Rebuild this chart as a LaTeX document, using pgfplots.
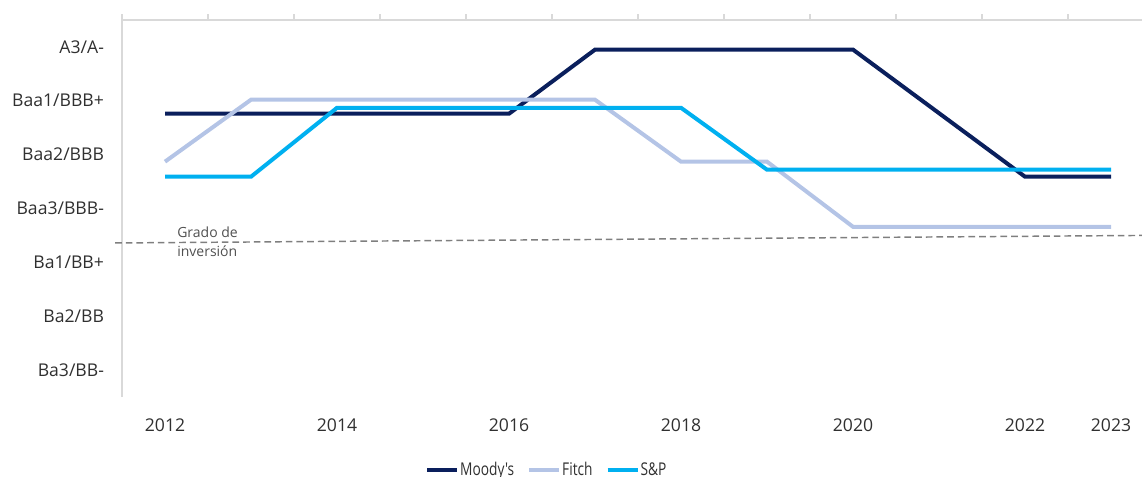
\documentclass[border=0pt]{standalone}
\usepackage{pgfplots}
\pgfplotsset{compat=1.18}
\usepackage{fontspec}
\setmainfont{Open Sans}
\newfontfamily\legfont[FakeStretch=0.78]{Open Sans}
\definecolor{moody}{HTML}{0A1F5C}
\definecolor{fitch}{HTML}{B4C4E6}
\definecolor{sp}{HTML}{00B0F0}
\definecolor{axisgray}{HTML}{D9D9D9}
\definecolor{labelgray}{HTML}{303030}
\definecolor{dashgray}{HTML}{7F7F7F}
\definecolor{notegray}{HTML}{505050}
\begin{document}
\begin{tikzpicture}
\begin{axis}[
  at={(0,0)}, anchor=south west,
  scale only axis, width=765pt, height=282.75pt,
  xmin=2011.5, xmax=2023.36, ymin=0.5, ymax=7.5,
  axis line style={draw=none},
  clip=false,
  /pgf/number format/assume math mode=true,
  /pgf/number format/set thousands separator={},
  xtick={2012,2014,2016,2018,2020,2022,2023},
  xticklabels={2012,2014,2016,2018,2020,2022,2023},
  ytick={1,2,3,4,5,6,7},
  yticklabels={Ba3/BB-,Ba2/BB,Ba1/BB+,Baa3/BBB-,Baa2/BBB,Baa1/BBB+,A3/A-},
  major tick length=0pt,
  tick style={draw=none},
  ticklabel style={font=\fontsize{13.2}{15}\selectfont, text=labelgray},
  xticklabel style={anchor=center, yshift=-21pt},
  yticklabel style={anchor=east, xshift=-10pt},
  legend style={at={(0.297,-0.194)}, anchor=west, draw=none, fill=none,
    legend columns=3, font=\legfont\fontsize{13.2}{15}\selectfont, text=labelgray,
    nodes={inner sep=0.75pt},
    /tikz/every even column/.append style={column sep=9pt},
    inner sep=0pt},
  legend cell align=left,
  legend image code/.code={\draw[#1, line width=3pt] (0pt,0pt) -- (22.5pt,0pt);},
]
\draw[axisgray, line width=1.1pt] (rel axis cs:0,0) -- ([yshift=4.5pt]rel axis cs:0,1);
\draw[axisgray, line width=1.1pt] (rel axis cs:0,1) -- (rel axis cs:1,1);
\pgfplotsinvokeforeach{2012.5,2013.5,2014.5,2015.5,2016.5,2017.5,2018.5,2019.5,2020.5,2021.5,2022.5}{
  \draw[axisgray, line width=1.1pt] (axis cs:#1,7.5) -- ([yshift=4.5pt]axis cs:#1,7.5);
}
\addplot[dashgray, line width=1.1pt, dash pattern=on 5pt off 3pt, forget plot]
  coordinates {(2011.42,3.36) (2023.36,3.50)};
\addplot[moody, line width=3pt] coordinates {
  (2012,5.76) (2016,5.76) (2017,6.95) (2020,6.95) (2022,4.59) (2023,4.59)};
\addlegendentry{Moody's}
\addplot[fitch, line width=3pt] coordinates {
  (2012,4.87) (2013,6.02) (2017,6.02) (2018,4.87) (2019,4.87) (2020,3.66) (2023,3.66)};
\addlegendentry{Fitch}
\addplot[sp, line width=3pt] coordinates {
  (2012,4.59) (2013,4.59) (2014,5.87) (2018,5.87) (2019,4.72) (2023,4.72)};
\addlegendentry{S\&P}
\node[anchor=west, align=left, font=\fontsize{10.5}{14.25}\selectfont, text=notegray, inner sep=0pt]
  at (axis cs:2012.14,3.39) {Grado de\\inversión};
\end{axis}
\pgfresetboundingbox
\path (-91.5pt,-59.25pt) rectangle (765pt,297.75pt);
\end{tikzpicture}
\end{document}
